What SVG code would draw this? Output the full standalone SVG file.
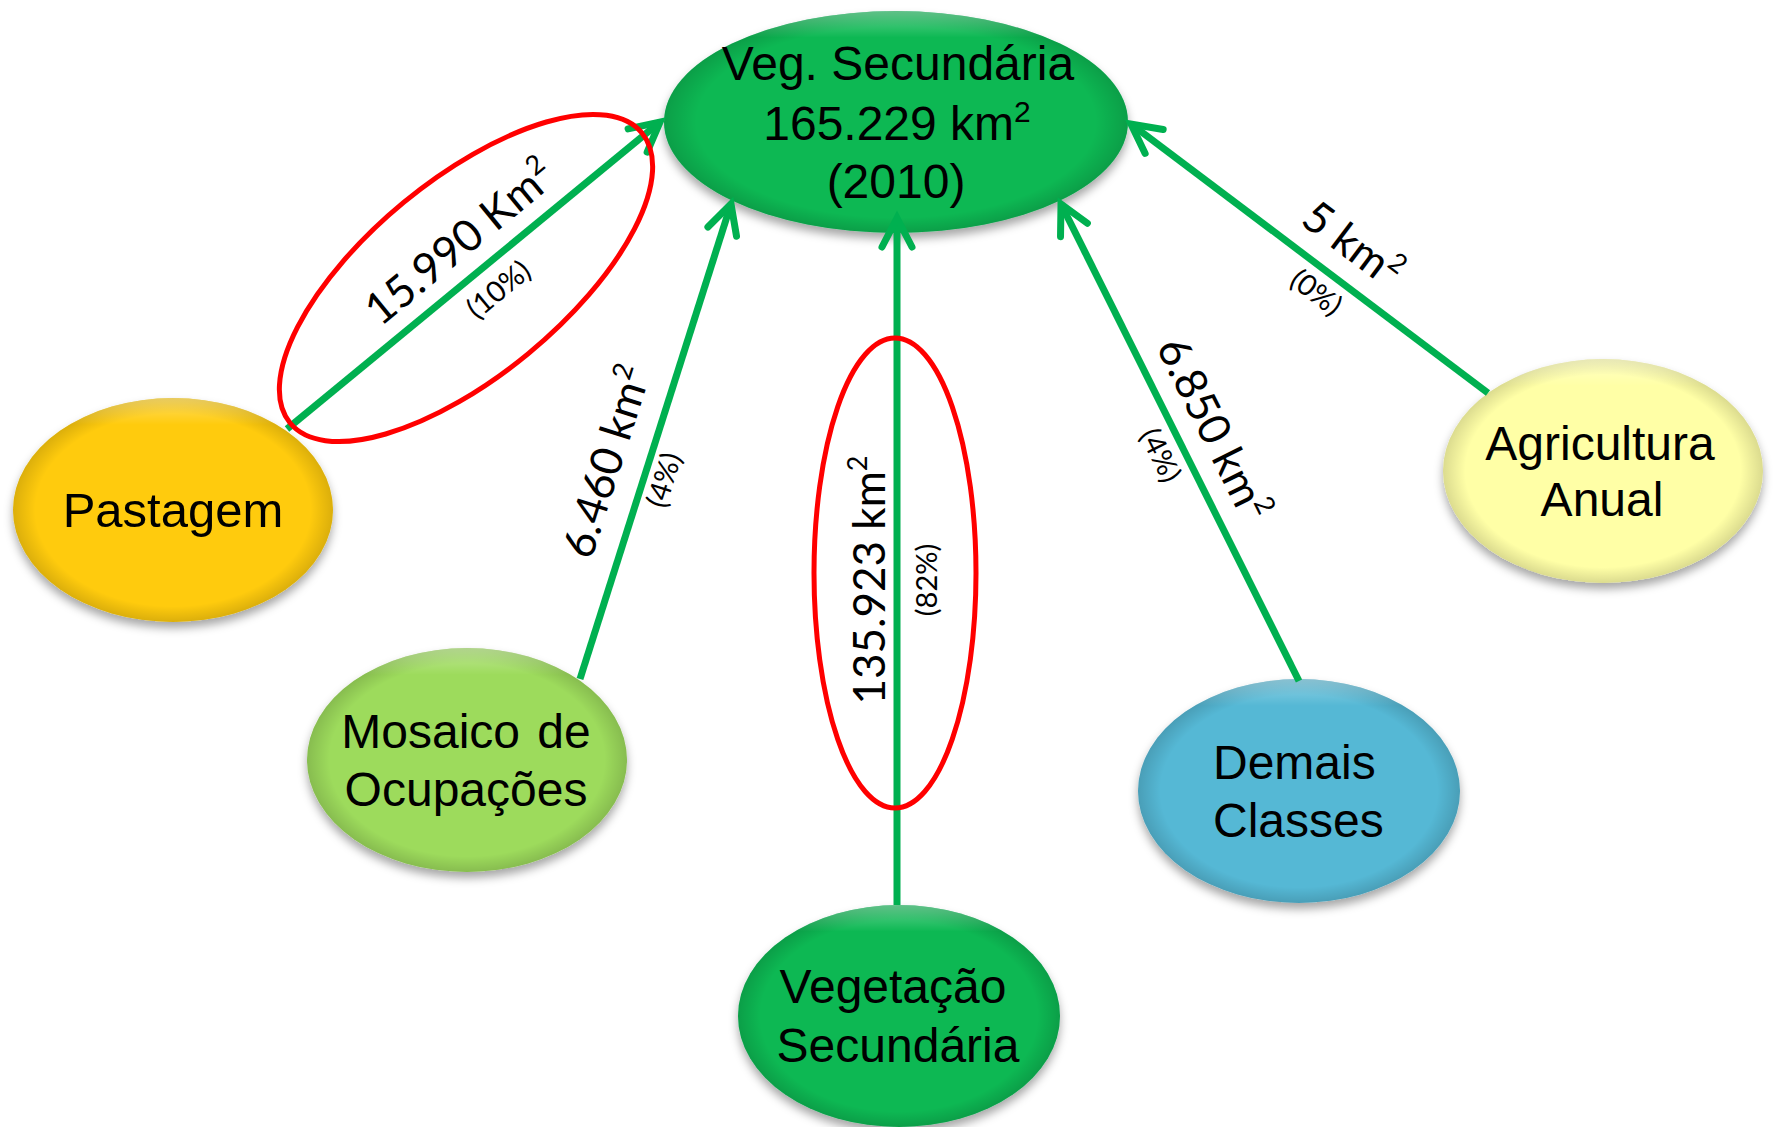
<svg xmlns="http://www.w3.org/2000/svg" width="1773" height="1127" viewBox="0 0 1773 1127">
  <defs>
    <style>
      .node-text { font-family: "Liberation Sans", Arial, sans-serif; font-size: 48px; fill: #000; text-anchor: middle; }
      .lbl { font-family: Lato, "Open Sans", sans-serif; font-size: 44px; fill: #000; text-anchor: middle; }
      .pct { font-family: Lato, "Open Sans", sans-serif; font-size: 29px; fill: #000; text-anchor: middle; }
      .conn { stroke: #00B050; stroke-width: 7; fill: none; }
      .red { stroke: #FF0000; stroke-width: 5; fill: none; }
      .bevel { fill: url(#bevel); }
      .hl { fill: url(#hl); }
    </style>
    <filter id="shadow" x="-20%" y="-20%" width="140%" height="150%">
      <feDropShadow dx="0" dy="6" stdDeviation="5" flood-color="#000" flood-opacity="0.35"/>
    </filter>
    <radialGradient id="bevel" cx="0.5" cy="0.5" r="0.5">
      <stop offset="0.86" stop-color="#000" stop-opacity="0"/>
      <stop offset="1" stop-color="#000" stop-opacity="0.14"/>
    </radialGradient>
    <linearGradient id="hl" x1="0" y1="0" x2="0" y2="1">
      <stop offset="0" stop-color="#fff" stop-opacity="0.35"/>
      <stop offset="0.12" stop-color="#fff" stop-opacity="0"/>
    </linearGradient>
    <marker id="arrow" markerUnits="userSpaceOnUse" markerWidth="80" markerHeight="80" refX="0" refY="0" orient="auto" overflow="visible">
      <path d="M -29 -15 L 0 0 L -29 15" fill="none" stroke="#00B050" stroke-width="7" stroke-linecap="round" stroke-linejoin="miter"/>
    </marker>
  </defs>

  <rect x="0" y="0" width="1773" height="1127" fill="#FFFFFF"/>

  <g id="node-main">
    <ellipse cx="896" cy="122" rx="232" ry="111" fill="#09B853" filter="url(#shadow)"/>
    <ellipse cx="896" cy="122" rx="232" ry="111" class="bevel"/>
    <ellipse cx="896" cy="122" rx="232" ry="111" class="hl"/>
    <text class="node-text" x="898" y="80">Veg. Secundária</text>
    <text class="node-text" x="897" y="140">165.229 km<tspan font-size="30" dy="-18">2</tspan></text>
    <text class="node-text" x="896" y="198">(2010)</text>
  </g>

  <g id="node-pastagem">
    <ellipse cx="173" cy="510" rx="160" ry="112" fill="#FFCB08" filter="url(#shadow)"/>
    <ellipse cx="173" cy="510" rx="160" ry="112" class="bevel"/>
    <ellipse cx="173" cy="510" rx="160" ry="112" class="hl"/>
    <text class="node-text" x="173" y="527" font-size="49" style="font-size:49px">Pastagem</text>
  </g>

  <g id="node-mosaico">
    <ellipse cx="467" cy="760" rx="160" ry="112" fill="#9DDB5B" filter="url(#shadow)"/>
    <ellipse cx="467" cy="760" rx="160" ry="112" class="bevel"/>
    <ellipse cx="467" cy="760" rx="160" ry="112" class="hl"/>
    <text class="node-text" x="466" y="748" word-spacing="4">Mosaico de</text>
    <text class="node-text" x="466" y="806">Ocupações</text>
  </g>

  <g id="node-vegetacao">
    <ellipse cx="899" cy="1016" rx="161" ry="111" fill="#09B853" filter="url(#shadow)"/>
    <ellipse cx="899" cy="1016" rx="161" ry="111" class="bevel"/>
    <ellipse cx="899" cy="1016" rx="161" ry="111" class="hl"/>
    <text class="node-text" x="893" y="1003">Vegetação</text>
    <text class="node-text" x="898" y="1062">Secundária</text>
  </g>

  <g id="node-demais">
    <ellipse cx="1299" cy="791" rx="161" ry="112" fill="#55B8D5" filter="url(#shadow)"/>
    <ellipse cx="1299" cy="791" rx="161" ry="112" class="bevel"/>
    <ellipse cx="1299" cy="791" rx="161" ry="112" class="hl"/>
    <text class="node-text" x="1213" y="779" style="text-anchor:start">Demais</text>
    <text class="node-text" x="1213" y="837" style="text-anchor:start">Classes</text>
  </g>

  <g id="node-agricultura">
    <ellipse cx="1603" cy="471" rx="160" ry="112" fill="#FFFFA6" filter="url(#shadow)"/>
    <ellipse cx="1603" cy="471" rx="160" ry="112" class="bevel"/>
    <ellipse cx="1603" cy="471" rx="160" ry="112" class="hl"/>
    <text class="node-text" x="1600" y="460">Agricultura</text>
    <text class="node-text" x="1602" y="516">Anual</text>
  </g>

  <g id="connectors">
    <line class="conn" x1="287" y1="429" x2="660" y2="122" marker-end="url(#arrow)"/>
    <line class="conn" x1="580" y1="679" x2="731" y2="204" marker-end="url(#arrow)"/>
    <line class="conn" x1="897" y1="905" x2="897" y2="218" marker-end="url(#arrow)"/>
    <line class="conn" x1="1299" y1="681" x2="1061" y2="204" marker-end="url(#arrow)"/>
    <line class="conn" x1="1488" y1="393" x2="1131" y2="124" marker-end="url(#arrow)"/>

    <g transform="translate(481.5,268.8) rotate(-39.5)">
      <text class="lbl" x="0" y="-19">15.990 Km<tspan font-size="27" dy="-18">2</tspan></text>
      <text class="pct" x="0" y="37">(10%)</text>
    </g>
    <g transform="translate(645,474) rotate(-72.4)">
      <text class="lbl" x="0" y="-25">6.460 km<tspan font-size="27" dy="-18">2</tspan></text>
      <text class="pct" x="0" y="30">(4%)</text>
    </g>
    <g transform="translate(897,580) rotate(-90)">
      <text class="lbl" x="0" y="-12">135.923 km<tspan font-size="27" dy="-18">2</tspan></text>
      <text class="pct" x="0" y="40">(82%)</text>
    </g>
    <g transform="translate(1181,445) rotate(63.5)">
      <text class="lbl" x="0" y="-21">6.850 km<tspan font-size="27" dy="-18">2</tspan></text>
      <text class="pct" x="0" y="33">(4%)</text>
    </g>
    <g transform="translate(1330,274) rotate(37)">
      <text class="lbl" x="0" y="-22">5 km<tspan font-size="27" dy="-18">2</tspan></text>
      <text class="pct" x="0" y="33">(0%)</text>
    </g>

    <ellipse class="red" cx="466" cy="278" rx="228" ry="98" transform="rotate(-39.5 466 278)"/>
    <ellipse class="red" cx="895" cy="573" rx="81" ry="235"/>
  </g>
</svg>
